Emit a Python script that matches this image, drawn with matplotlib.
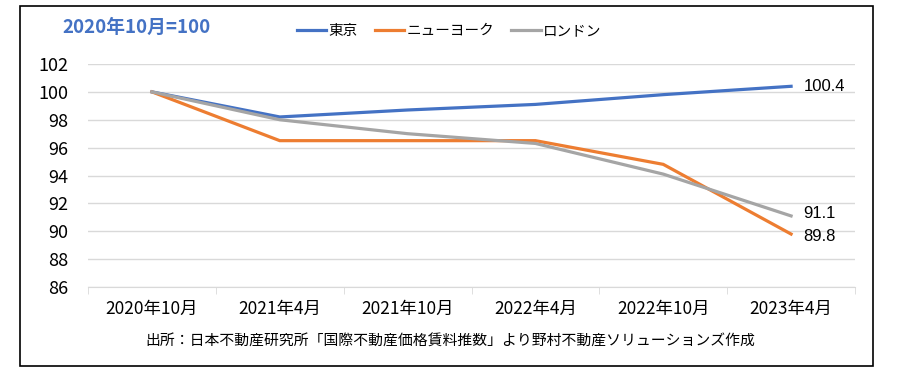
import matplotlib
matplotlib.use("Agg")
import matplotlib.pyplot as plt
from matplotlib.patches import Rectangle
import numpy as np

plt.rcParams['font.family'] = ['Noto Sans CJK JP', 'DejaVu Sans']

categories = ['2020年10月', '2021年4月', '2021年10月', '2022年4月', '2022年10月', '2023年4月']
tokyo = [100, 98.2, 98.7, 99.1, 99.8, 100.4]
newyork = [100, 96.5, 96.5, 96.5, 94.8, 89.8]
london = [100, 98.0, 97.0, 96.3, 94.1, 91.1]
series_names = ['東京', 'ニューヨーク', 'ロンドン']
colors = ['#4472c4', '#ed7d31', '#a5a5a5']

fig = plt.figure(figsize=(9, 3.8), dpi=100)
ax = fig.add_axes([0.0978, 0.2447, 0.8522, 0.5869])

x = np.arange(len(categories))
for vals, name, c in zip([tokyo, newyork, london], series_names, colors):
    ax.plot(x, vals, color=c, lw=2.3, label=name, solid_joinstyle='miter')

ax.set_xlim(-0.5, len(categories) - 0.5)
ax.set_ylim(86, 102)
ax.set_yticks(range(86, 103, 2))
ax.grid(axis='y', color='#d9d9d9', lw=1)
ax.set_axisbelow(True)
ax.set_xticks(x)
ax.set_xticklabels(categories)
ax.set_xticks(np.arange(-0.5, len(categories), 1), minor=True)
ax.tick_params(axis='x', which='major', length=0, pad=9, labelsize=12.5)
ax.tick_params(axis='x', which='minor', length=5, color='#d9d9d9')
ax.tick_params(axis='y', length=0, pad=14, labelsize=13)
for s in ['top', 'right', 'left']:
    ax.spines[s].set_visible(False)
ax.spines['bottom'].set_color('#d9d9d9')

# end labels
num_font = ['Liberation Sans', 'DejaVu Sans']
ax.annotate(f'{tokyo[-1]:.1f}', (x[-1], tokyo[-1]), xytext=(9, 0), textcoords='offset points',
            va='center', ha='left', fontsize=12, family=num_font)
ax.annotate(f'{london[-1]:.1f}', (x[-1], london[-1]), xytext=(9, 1.5), textcoords='offset points',
            va='center', ha='left', fontsize=12, family=num_font)
ax.annotate(f'{newyork[-1]:.1f}', (x[-1], newyork[-1]), xytext=(9, -1.5), textcoords='offset points',
            va='center', ha='left', fontsize=12, family=num_font)

ax.legend(loc='center', bbox_to_anchor=(449 / 900, 1 - 31 / 380), bbox_transform=fig.transFigure,
          ncol=3, frameon=False, fontsize=10.5, handlelength=2.0, handletextpad=0.15, columnspacing=1.2)

fig.text(62 / 900, 1 - 27 / 380, '2020年10月=100', color='#4472c4', fontsize=13.5,
         fontweight='bold', va='center', ha='left')
fig.text(450 / 900, 1 - 342 / 380, '出所：日本不動産研究所「国際不動産価格賃料推数」より野村不動産ソリューションズ作成',
         fontsize=10.7, va='center', ha='center')

fig.patches.append(Rectangle((20 / 900, 1 - 366 / 380), 853 / 900, 360 / 380, transform=fig.transFigure,
                             fill=False, edgecolor='black', lw=1.2))

fig.savefig('out.png', dpi=100)
